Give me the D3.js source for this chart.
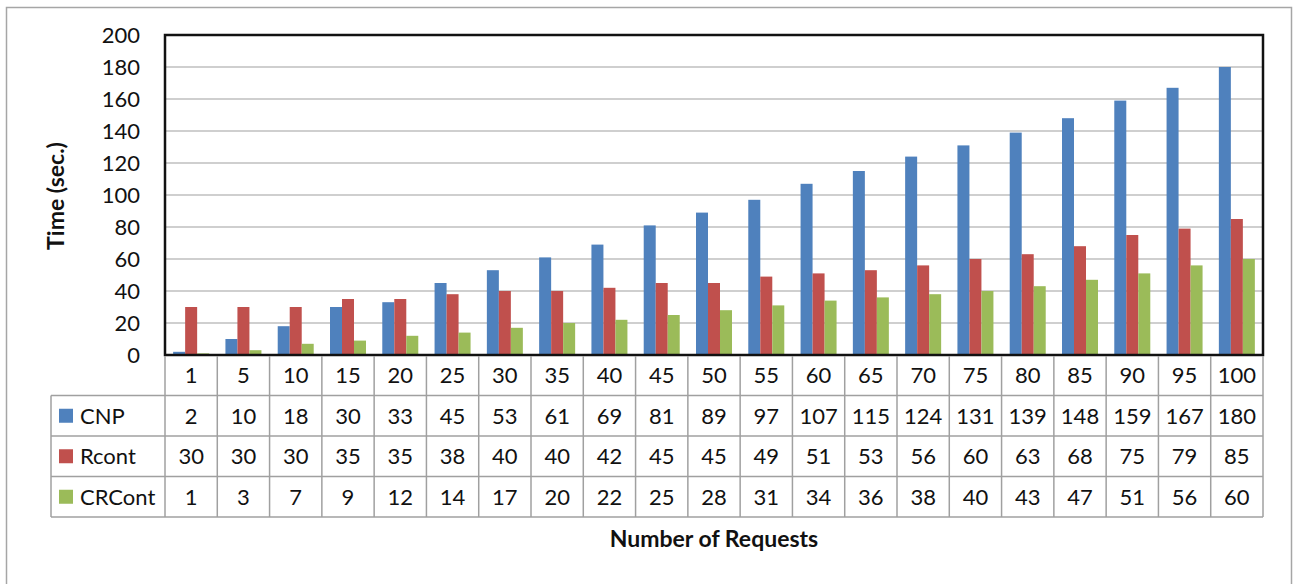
<!DOCTYPE html>
<html lang="en">
<head>
<meta charset="UTF-8">
<title>Time vs Number of Requests</title>
<script src="https://cdn.jsdelivr.net/npm/d3@7/dist/d3.min.js"></script>
<style>
  body { margin: 0; background: #fff; }
  text { font-family: Lato, "Open Sans", sans-serif; fill: #111; }
</style>
</head>
<body>
<div id="chart"></div>
<script>
// data
var requests = ["1","5","10","15","20","25","30","35","40","45","50","55","60","65","70","75","80","85","90","95","100"];
var cnp    = [2,10,18,30,33,45,53,61,69,81,89,97,107,115,124,131,139,148,159,167,180];
var rcont  = [30,30,30,35,35,38,40,40,42,45,45,49,51,53,56,60,63,68,75,79,85];
var crcont = [1,3,7,9,12,14,17,20,22,25,28,31,34,36,38,40,43,47,51,56,60];
var seriesNames = ["CNP","Rcont","CRCont"];
var seriesColors = ["#4f81bd","#c0504d","#9bbb59"];
var yTicks = [0,20,40,60,80,100,120,140,160,180,200];

var width = 1293, height = 584;
var plotLeft = 165, plotRight = 1263, plotTop = 35, plotBottom = 355;
var rowH = 40.5, legendLeft = 51;
var fs = "22px";

var svg = d3.select("#chart").append("svg")
    .attr("width", width)
    .attr("height", height);

// outer frame
svg.append("rect")
    .attr("x", 6.5).attr("y", 7.5)
    .attr("width", 1285).attr("height", 590)
    .attr("fill", "#fff")
    .attr("stroke", "#a6a6a6")
    .attr("stroke-width", 1.5);

var x = d3.scaleBand().domain(requests).range([plotLeft, plotRight]);
var y = d3.scaleLinear().domain([0, 200]).range([plotBottom, plotTop]);

// gridlines
svg.append("g")
    .selectAll("line")
    .data(yTicks.slice(1))
    .enter().append("line")
    .attr("x1", plotLeft).attr("x2", plotRight)
    .attr("y1", function(d) { return y(d); })
    .attr("y2", function(d) { return y(d); })
    .attr("stroke", "#a0a0a0")
    .attr("stroke-width", 1.2);

// y axis labels
var yAxis = d3.axisLeft(y).tickValues(yTicks).tickSize(0).tickPadding(25);
var yg = svg.append("g")
    .attr("transform", "translate(" + plotLeft + ",0)")
    .call(yAxis);
yg.select(".domain").remove();
yg.selectAll("text")
    .style("font-family", "Lato, 'Open Sans', sans-serif")
    .style("font-size", fs)
    .attr("fill", "#111");

// bars
var series = [cnp, rcont, crcont];
var inner = d3.scaleBand().domain([0,1,2]).range([0, 36]);
series.forEach(function(vals, s) {
    svg.append("g")
        .selectAll("rect")
        .data(vals)
        .enter().append("rect")
        .attr("x", function(d, i) { return x(requests[i]) + (x.bandwidth() - 36) / 2 + inner(s); })
        .attr("width", inner.bandwidth())
        .attr("y", function(d) { return y(d); })
        .attr("height", function(d) { return plotBottom - y(d); })
        .attr("fill", seriesColors[s]);
});

// plot border
svg.append("rect")
    .attr("x", plotLeft).attr("y", plotTop)
    .attr("width", plotRight - plotLeft).attr("height", plotBottom - plotTop)
    .attr("fill", "none")
    .attr("stroke", "#111")
    .attr("stroke-width", 2.5);

// data table
var tbl = svg.append("g");
var tableBottom = plotBottom + rowH * 4;
var gridColor = "#a0a0a0";

for (var r = 1; r <= 4; r++) {
    tbl.append("line")
        .attr("x1", legendLeft).attr("x2", plotRight)
        .attr("y1", plotBottom + rowH * r).attr("y2", plotBottom + rowH * r)
        .attr("stroke", gridColor).attr("stroke-width", 1.5);
}
tbl.selectAll("line.col")
    .data(requests.map(function(d) { return x(d); }).concat([plotRight]))
    .enter().append("line")
    .attr("class", "col")
    .attr("x1", function(d) { return d; }).attr("x2", function(d) { return d; })
    .attr("y1", plotBottom + 1).attr("y2", tableBottom)
    .attr("stroke", gridColor).attr("stroke-width", 1.5);
tbl.append("line")
    .attr("x1", legendLeft).attr("x2", legendLeft)
    .attr("y1", plotBottom + rowH).attr("y2", tableBottom)
    .attr("stroke", gridColor).attr("stroke-width", 1.5);

// category row
tbl.selectAll("text.cat")
    .data(requests)
    .enter().append("text")
    .attr("class", "cat")
    .attr("x", function(d) { return x(d) + x.bandwidth() / 2; })
    .attr("y", plotBottom + rowH / 2 + 8)
    .attr("text-anchor", "middle")
    .style("font-size", fs)
    .text(function(d) { return d; });

// series rows
series.forEach(function(vals, s) {
    var ry = plotBottom + rowH * (s + 1);
    tbl.append("rect")
        .attr("x", 59).attr("y", ry + rowH / 2 - 7)
        .attr("width", 14).attr("height", 14)
        .attr("fill", seriesColors[s]);
    tbl.append("text")
        .attr("x", 80).attr("y", ry + rowH / 2 + 8)
        .style("font-size", fs)
        .text(seriesNames[s]);
    tbl.selectAll("text.v" + s)
        .data(vals)
        .enter().append("text")
        .attr("class", "v" + s)
        .attr("x", function(d, i) { return x(requests[i]) + x.bandwidth() / 2; })
        .attr("y", ry + rowH / 2 + 8)
        .attr("text-anchor", "middle")
        .style("font-size", fs)
        .text(function(d) { return d; });
});

// axis titles
svg.append("text")
    .attr("x", 714).attr("y", 547)
    .attr("text-anchor", "middle")
    .style("font-size", "23px")
    .style("font-weight", "bold")
    .text("Number of Requests");

svg.append("text")
    .attr("transform", "translate(64,196) rotate(-90)")
    .attr("text-anchor", "middle")
    .style("font-size", "23px")
    .style("font-weight", "bold")
    .text("Time (sec.)");
</script>
</body>
</html>
